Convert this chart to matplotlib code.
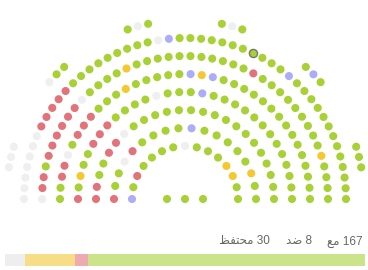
import numpy as np
import matplotlib
matplotlib.use("Agg")
import matplotlib.pyplot as plt

# seat colours per row, left (bottom) to right (bottom)
# g = with, r = abstain, y = against, b = other, n = absent, . = empty slot
row1 = "bgrggggngggyygg"
row2 = "rggnrggggbgggggygg"
row3 = "rrggrrn" + "g" * 17
row4 = "rgyggrrrggggngggb" + "g" * 13
row5 = "ggrrngrrrgggygggggbyb" + "g" * 15
row6 = "nrrgrrrrrr" + "ngggg" + "y" + "g" * 11 + "r" + "g" * 9 + "y" + "g" * 4
row7 = "n" * 7 + "r" * 5 + "g" * 9 + "nb" + "g" * 11 + "b" + "g" * 13
row8 = "...nnn......ngg......gng......gng......gbg......ggg..."
center_row = "ggg"
rows = [row1, row2, row3, row4, row5, row6, row7, row8]
highlight = (6, 30)

# summary bar / legend
bar_labels = ["absent", "abstain", "against", "with"]
bar_values = [12, 30, 8, 167]
legend_words = ["\ufec6\ufed4\ufe98\ufea4\ufee3", "\ufeaa\ufebf", "\ufeca\ufee3"]  # محتفظ, ضد, مع
legend_counts = [30, 8, 167]

seat_colors = {"g": "#a8d136", "r": "#e2737b", "y": "#f4c82e",
               "b": "#adadf7", "n": "#efefef"}
bar_colors = ["#eeeeee", "#f7de86", "#eeaab0", "#cbe389"]

W, H = 368, 270
fig = plt.figure(figsize=(W / 100, H / 100), dpi=100)
ax = fig.add_axes([0, 0, 1, 1])
ax.set_xlim(0, W)
ax.set_ylim(H, 0)
ax.axis("off")

cx, cy = 185, 199
r0, step = 53, 18
xs, ys, cs = [], [], []
hl = None
for k, row in enumerate(rows):
    r = r0 + k * step
    n = len(row)
    phi = np.linspace(0, np.pi, n)
    for i, c in enumerate(row):
        if c == ".":
            continue
        x = cx - r * np.cos(phi[i])
        y = cy - r * np.sin(phi[i])
        xs.append(x); ys.append(y); cs.append(seat_colors[c])
        if (k, i) == highlight:
            hl = (x, y)
for i, c in enumerate(center_row):
    xs.append(cx + (i - 1) * step); ys.append(cy); cs.append(seat_colors[c])

ax.scatter(xs, ys, s=34, c=cs, linewidths=0)
if hl:
    ax.scatter([hl[0]], [hl[1]], s=34, c=seat_colors["g"], edgecolors="#777777", linewidths=1.0)

# legend texts (visual order: word then number)
fam = ["Liberation Sans", "DejaVu Sans"]
right_edges = [270, 312, 363]
for word, cnt, xr in zip(legend_words, legend_counts, right_edges):
    ax.text(xr, 244.5, word + " " + str(cnt), ha="right", va="baseline",
            fontsize=8.5, color="#666666", family=fam)

# stacked bar
bax = fig.add_axes([5 / W, 1 - 266 / H, 360 / W, 12 / H])
left = 0
for lab, v, col in zip(bar_labels, bar_values, bar_colors):
    bax.barh(0, v, left=left, height=1, color=col, linewidth=0)
    left += v
bax.set_xlim(0, sum(bar_values))
bax.set_ylim(-0.5, 0.5)
bax.axis("off")

fig.savefig("out.png", dpi=100)
